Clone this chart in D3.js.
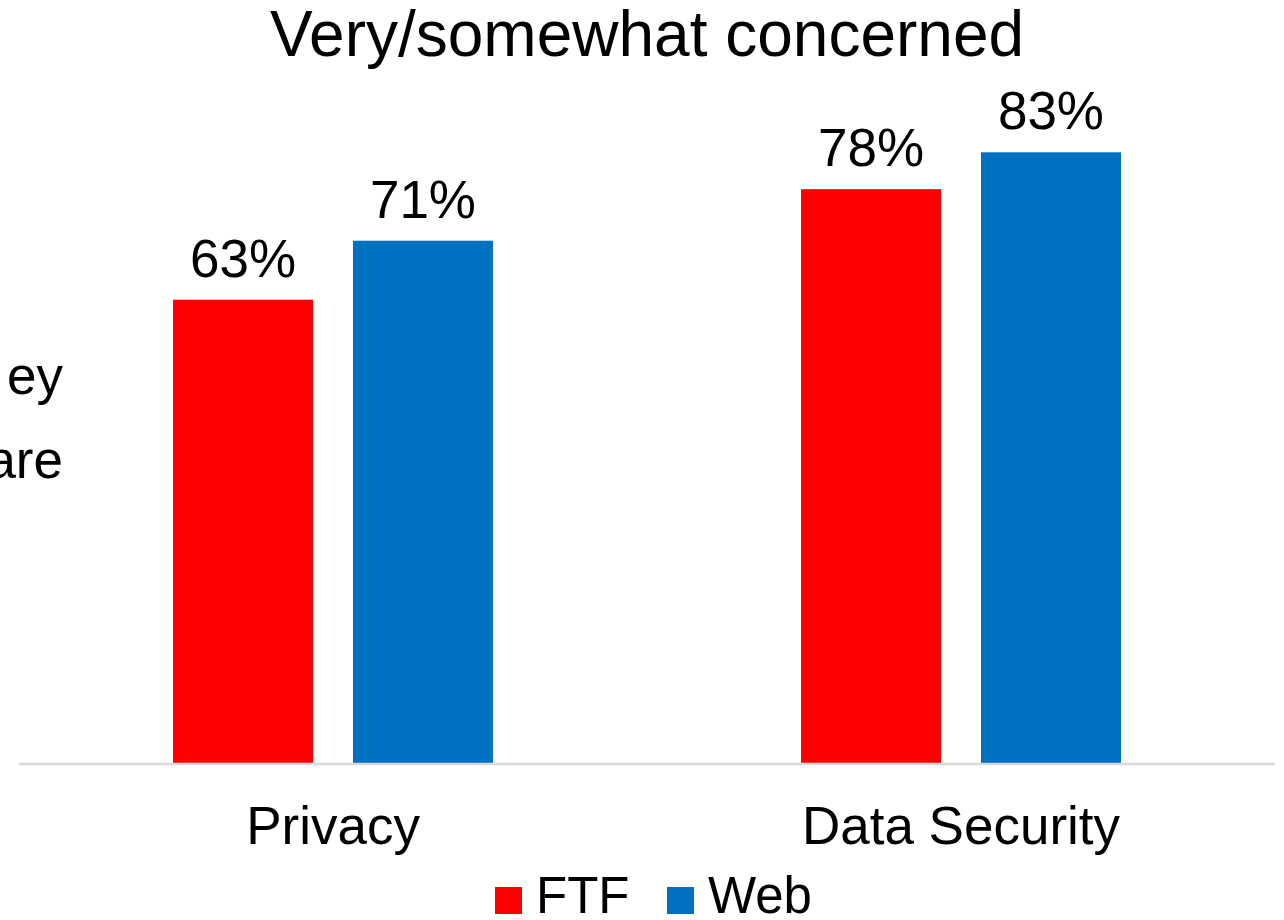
<!DOCTYPE html>
<html>
<head>
<meta charset="utf-8">
<script src="https://cdn.jsdelivr.net/npm/d3@7"></script>
<style>
  html, body { margin: 0; padding: 0; background: #fff; }
  svg { display: block; font-family: "Liberation Sans", Arial, sans-serif; }
</style>
</head>
<body>
<svg id="chart" width="1284" height="920"></svg>
<script>
const title = "Very/somewhat concerned";
const categories = ["Privacy", "Data Security"];
const seriesNames = ["FTF", "Web"];
const ftfValues = [63, 78];
const webValues = [71, 83];
const seriesColors = ["#FF0000", "#0070C0"];
const leftFragments = ["ey", "are"];

const svg = d3.select("#chart");
const plotLeft = 19, plotRight = 1275, baseY = 764, topY = 27;

const data = categories.map((c, i) => ({ cat: c, values: [ftfValues[i], webValues[i]] }));

const x0 = d3.scaleBand().domain(categories).range([plotLeft, plotRight]).paddingInner(0).paddingOuter(0);
const x1 = d3.scaleBand().domain(seriesNames).range([0, x0.bandwidth()]).paddingInner(0.222).paddingOuter(0.856);
const y = d3.scaleLinear().domain([0, 100]).range([baseY, topY]);

// Title
svg.append("text").attr("x", 647).attr("y", 56).attr("text-anchor", "middle")
  .attr("font-size", 64).attr("fill", "#000").text(title);

// Left cut-off text
leftFragments.forEach((t, i) => {
  svg.append("text").attr("x", 63).attr("y", 394 + i * 84).attr("text-anchor", "end")
    .attr("font-size", 53).attr("fill", "#000").text(t);
});

// Bars
const groups = svg.selectAll("g.grp").data(data).enter().append("g")
  .attr("transform", d => `translate(${x0(d.cat)},0)`);

groups.selectAll("rect").data(d => d.values.map((v, j) => ({ s: seriesNames[j], v, j })))
  .enter().append("rect")
  .attr("x", d => x1(d.s)).attr("width", x1.bandwidth())
  .attr("y", d => y(d.v)).attr("height", d => y(0) - y(d.v))
  .attr("fill", d => seriesColors[d.j]);

groups.selectAll("text.val").data(d => d.values.map((v, j) => ({ s: seriesNames[j], v, j })))
  .enter().append("text").attr("class", "val")
  .attr("x", d => x1(d.s) + x1.bandwidth() / 2).attr("y", d => y(d.v) - 23)
  .attr("text-anchor", "middle").attr("font-size", 53).attr("fill", "#000")
  .text(d => d.v + "%");

// Baseline axis
const xAxis = d3.axisBottom(x0).tickSize(0).tickPadding(0);
const axisG = svg.append("g").attr("transform", `translate(0,${baseY})`).call(xAxis);
axisG.select(".domain").attr("stroke", "#D9D9D9").attr("stroke-width", 2.5)
  .attr("d", `M${plotLeft},0H${plotRight}`);
axisG.selectAll(".tick text").attr("font-size", 53).attr("fill", "#000")
  .attr("font-family", "Liberation Sans, Arial, sans-serif")
  .attr("dy", null).attr("y", 80);

// Legend
const legendItems = [{ name: seriesNames[0], x: 495 }, { name: seriesNames[1], x: 667 }];
legendItems.forEach((it, i) => {
  svg.append("rect").attr("x", it.x).attr("y", 887).attr("width", 27).attr("height", 27)
    .attr("fill", seriesColors[i]);
  svg.append("text").attr("x", it.x + 41).attr("y", 913).attr("font-size", 51)
    .attr("fill", "#000").text(it.name);
});
</script>
</body>
</html>
